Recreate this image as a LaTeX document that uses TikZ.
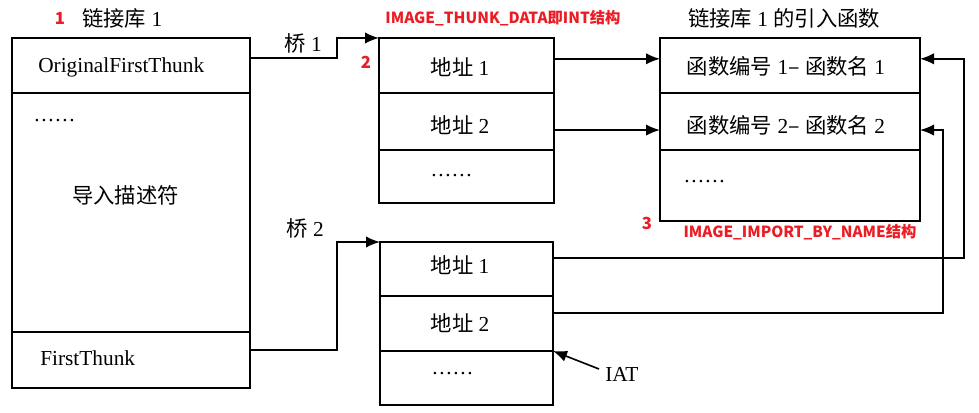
\documentclass[tikz,border=0pt]{standalone}
\usepackage{fontspec}
\setmainfont{Liberation Serif}
\newfontfamily\cjk{Noto Sans CJK SC}
\usetikzlibrary{arrows.meta,calc}
\definecolor{lblred}{RGB}{235,28,36}
\newcommand{\mydots}{{\addfontfeature{LetterSpace=8}......}}
\tikzset{
  row/.style={draw=black,line width=1.5pt,inner sep=0pt,outer sep=0pt,anchor=north west},
  txt/.style={inner sep=0pt,font=\fontsize{16}{19}\selectfont},
  redlbl/.style={inner sep=0pt,text=lblred,font=\cjk\bfseries\fontsize{11.5}{14}\selectfont},
  rednum/.style={inner sep=0pt,text=lblred,font=\cjk\bfseries\fontsize{12.5}{14}\selectfont},
  conn/.style={line width=1.2pt,-{Latex[length=10.5pt,width=8.5pt]}},
  plain/.style={line width=1.2pt}
}
\begin{document}
\begin{tikzpicture}[x=0.75pt,y=-0.75pt]
\useasboundingbox[fill=white] (0,0) rectangle (979,413);
% left box
\node[row,minimum width=178.5pt,minimum height=41.25pt] (L1) at (12,38) {};
\node[row,minimum width=178.5pt,minimum height=179.25pt] (L2) at (12,93) {};
\node[row,minimum width=178.5pt,minimum height=42pt] (L3) at (12,332) {};
\node[txt,anchor=west] (t1) at (38,67) {OriginalFirstThunk};
\node[txt,anchor=west] (t2) at (34,121) {\mydots};
\node[txt,anchor=west] (t3) at (72,195) {\cjk 导入描述符};
\node[txt,anchor=west] (t4) at (40,358) {FirstThunk};
% INT box
\node[row,minimum width=131.25pt,minimum height=41.25pt] (A1) at (379,38) {};
\node[row,minimum width=131.25pt,minimum height=42.75pt] (A2) at (379,93) {};
\node[row,minimum width=131.25pt,minimum height=39.75pt] (A3) at (379,150) {};
\node[txt] (a1t) at (460,67) {{\cjk 地址} 1};
\node[txt] (a2t) at (460,125) {{\cjk 地址} 2};
\node[txt,anchor=west] (a3t) at (431,176) {\mydots};
% function box
\node[row,minimum width=195pt,minimum height=41.25pt] (F1) at (660,38) {};
\node[row,minimum width=195pt,minimum height=42.75pt] (F2) at (660,93) {};
\node[row,minimum width=195pt,minimum height=53.25pt] (F3) at (660,150) {};
\node[txt] (f1t) at (786,66) {{\cjk 函数编号} 1{\cjk –} {\cjk 函数名} 1};
\node[txt] (f2t) at (786,125) {{\cjk 函数编号} 2{\cjk –} {\cjk 函数名} 2};
\node[txt,anchor=west] (f3t) at (684,182) {\mydots};
% IAT box
\node[row,minimum width=129.75pt,minimum height=40.5pt] (B1) at (380,242) {};
\node[row,minimum width=129.75pt,minimum height=41.25pt] (B2) at (380,296) {};
\node[row,minimum width=129.75pt,minimum height=40.5pt] (B3) at (380,351) {};
\node[txt] (b1t) at (460,265) {{\cjk 地址} 1};
\node[txt] (b2t) at (460,323) {{\cjk 地址} 2};
\node[txt,anchor=west] (b3t) at (432,374) {\mydots};
% titles
\node[rednum] (n1) at (60,18) {1};
\node[txt,anchor=west] (lib) at (82,18) {{\cjk 链接库} 1};
\node[rednum] (n2) at (366,62) {2};
\node[redlbl] (intt) at (503,18) {IMAGE\_THUNK\_DATA即INT结构};
\node[txt] (fnt) at (784,18) {{\cjk 链接库} 1 {\cjk 的引入函数}};
\node[rednum] (n3) at (647,223) {3};
\node[redlbl] (ibn) at (800,232) {IMAGE\_IMPORT\_BY\_NAME结构};
\node[txt] (br1) at (303,43) {{\cjk 桥} 1};
\node[txt] (br2) at (305,228) {{\cjk 桥} 2};
\node[txt,anchor=west] (iat) at (605,374) {IAT};
% connectors
\coordinate (p1) at ([yshift=5.6pt]L1.east);
\coordinate (k1) at (337,0);
\draw[conn] (p1) -- (p1 -| k1) |- (A1.north west);
\coordinate (p2) at ([yshift=7.5pt]L3.east);
\draw[conn] (p2) -- (p2 -| k1) |- (B1.north west);
\coordinate (q1) at ([yshift=5pt]A1.east);
\draw[conn] (q1) -- (q1 -| F1.west);
\coordinate (q2) at ([yshift=-6.4pt]A2.east);
\draw[conn] (q2) -- (q2 -| F2.west);
\coordinate (r1) at ([yshift=8.25pt]B1.east);
\coordinate (k2) at (964,0);
\coordinate (f1i) at ([yshift=5pt]F1.east);
\draw[conn] (r1) -- (r1 -| k2) |- (f1i);
\coordinate (r2) at ([yshift=7.9pt]B2.east);
\coordinate (k3) at (943,0);
\coordinate (f2i) at ([yshift=-6.4pt]F2.east);
\draw[conn] (r2) -- (r2 -| k3) |- (f2i);
\draw[conn] ([shift={(-6,-5)}]iat.west) -- (B3.north east);
\end{tikzpicture}
\end{document}
